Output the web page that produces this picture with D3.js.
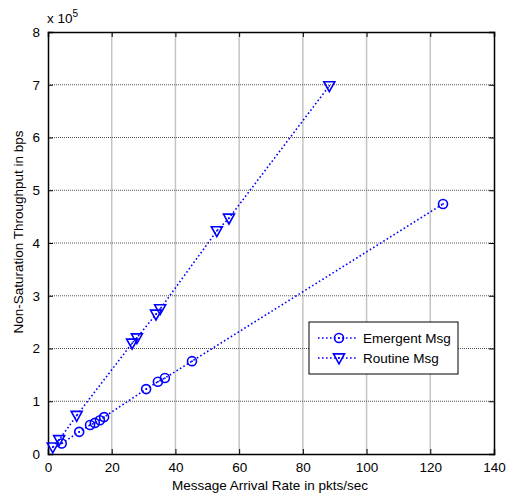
<!DOCTYPE html>
<html><head><meta charset="utf-8">
<script src="https://cdn.jsdelivr.net/npm/d3@7"></script>
<style>body{margin:0;background:#fff;} svg{display:block;font-family:"Liberation Sans",Arial,sans-serif;}</style>
</head><body>
<svg id="c" width="522" height="499"></svg>
<script>
const emergentX = [4.3, 9.8, 13.2, 14.7, 16.3, 17.6, 30.8, 34.5, 36.7, 45.2, 124];
const emergentY = [0.2, 0.42, 0.55, 0.59, 0.64, 0.70, 1.23, 1.37, 1.44, 1.76, 4.74];
const routineX = [1.5, 3.5, 9.0, 26.4, 27.9, 33.9, 35.2, 53.0, 56.8, 88.3];
const routineY = [0.13, 0.27, 0.73, 2.1, 2.2, 2.65, 2.75, 4.23, 4.47, 6.98];
const xTicks = [0,20,40,60,80,100,120,140];
const yTicks = [0,1,2,3,4,5,6,7,8];
const seriesNames = ["Emergent Msg", "Routine Msg"];

const svg = d3.select("#c");
const L=48, R=494, T=32, B=454;
const x = d3.scaleLinear().domain([0,140]).range([L,R]);
const y = d3.scaleLinear().domain([0,8]).range([B,T]);
const blue = "#0000ff";

// grid
svg.append("g").selectAll("line").data(xTicks.slice(1,-1)).join("line")
  .attr("x1",d=>x(d)).attr("x2",d=>x(d)).attr("y1",T).attr("y2",B)
  .attr("stroke","#c4c4c4").attr("stroke-width",1.5);
svg.append("g").selectAll("line").data(yTicks.slice(1,-1)).join("line")
  .attr("x1",L).attr("x2",R).attr("y1",d=>y(d)).attr("y2",d=>y(d))
  .attr("stroke","#555").attr("stroke-width",1).attr("stroke-dasharray","1,1");

// axes
const fs = "13.5px";
const xa = svg.append("g").attr("transform",`translate(0,${B})`)
  .call(d3.axisBottom(x).tickValues(xTicks).tickSize(-5).tickPadding(8));
const xt = svg.append("g").attr("transform",`translate(0,${T})`)
  .call(d3.axisTop(x).tickValues(xTicks).tickSize(-5).tickFormat(""));
const ya = svg.append("g").attr("transform",`translate(${L},0)`)
  .call(d3.axisLeft(y).tickValues(yTicks).tickSize(-5).tickPadding(8));
const yr = svg.append("g").attr("transform",`translate(${R},0)`)
  .call(d3.axisRight(y).tickValues(yTicks).tickSize(-5).tickFormat(""));
[xa,xt,ya,yr].forEach(g=>{
  g.select(".domain").attr("stroke","#000").attr("stroke-width",1.5);
  g.selectAll(".tick line").attr("stroke","#000");
  g.selectAll("text").attr("font-size",fs).attr("fill","#000").attr("font-family","Liberation Sans, Arial, sans-serif");
});

// exponent label
const ex = svg.append("text").attr("x",L-1).attr("y",23).attr("font-size","13.5px").attr("fill","#000");
ex.append("tspan").text("x 10");
ex.append("tspan").attr("dy",-6).attr("font-size","10px").text("5");

// axis labels
svg.append("text").attr("x",270).attr("y",490).attr("text-anchor","middle")
  .attr("font-size","13.5px").attr("fill","#000").text("Message Arrival Rate in pkts/sec");
svg.append("text").attr("transform",`translate(23,${232}) rotate(-90)`).attr("text-anchor","middle")
  .attr("font-size","13.5px").attr("fill","#000").text("Non-Saturation Throughput in bps");

// lines
const line = d3.line().x(d=>x(d[0])).y(d=>y(d[1]));
const eData = emergentX.map((v,i)=>[v,emergentY[i]]);
const rData = routineX.map((v,i)=>[v,routineY[i]]);
[eData, rData].forEach(dat=>{
  svg.append("path").datum(dat).attr("d",line).attr("fill","none")
    .attr("stroke",blue).attr("stroke-width",1.6).attr("stroke-dasharray","1.6,2.4");
});

function circ(g,cx,cy){
  g.append("circle").attr("cx",cx).attr("cy",cy).attr("r",4.5).attr("fill","none")
    .attr("stroke",blue).attr("stroke-width",1.6);
  g.append("circle").attr("cx",cx).attr("cy",cy).attr("r",0.9).attr("fill",blue);
}
function tri(g,cx,cy){
  const s=5.5;
  g.append("path").attr("d",`M${cx-s},${cy-s*0.75}L${cx+s},${cy-s*0.75}L${cx},${cy+s*1.05}Z`)
    .attr("fill","none").attr("stroke",blue).attr("stroke-width",1.6);
  g.append("circle").attr("cx",cx).attr("cy",cy).attr("r",0.9).attr("fill",blue);
}
const mg = svg.append("g");
eData.forEach(d=>circ(mg,x(d[0]),y(d[1])));
rData.forEach(d=>tri(mg,x(d[0]),y(d[1])));

// legend
const lg = svg.append("g");
lg.append("rect").attr("x",309).attr("y",322).attr("width",149).attr("height",52)
  .attr("fill","#fff").attr("stroke","#000").attr("stroke-width",1);
[[338,circ],[358,tri]].forEach(([ly,fn],i)=>{
  lg.append("line").attr("x1",318).attr("x2",357).attr("y1",ly).attr("y2",ly)
    .attr("stroke",blue).attr("stroke-width",1.6).attr("stroke-dasharray","1.6,2.4");
  fn(lg,339,ly);
  lg.append("text").attr("x",363).attr("y",ly+5).attr("font-size","13.5px").attr("fill","#000").text(seriesNames[i]);
});
</script>
</body></html>
